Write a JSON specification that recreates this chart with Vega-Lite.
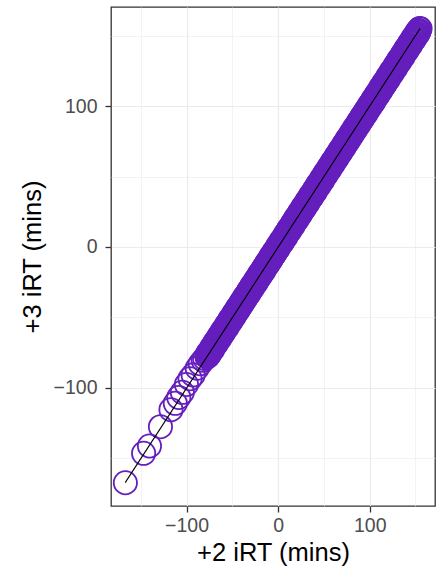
{
 "$schema": "https://vega.github.io/schema/vega-lite/v6.json",
 "width": 324, "height": 499,
 "autosize": {"type": "none"},
 "padding": {"left": 111, "top": 7, "right": 13, "bottom": 72},
 "background": "white",
 "config": {"view": {"stroke": "#333333", "strokeWidth": 1.3}, "font": "Liberation Sans"},
 "datasets": {
  "pts": [
{"x":-166.8,"y":-167.4},{"x":-146.9,"y":-146.5},{"x":-140.5,"y":-141.3},{"x":-128.5,"y":-127.6},{"x":-117.0,"y":-115.5},{"x":-112.3,"y":-111.0},{"x":-108.5,"y":-106.8},{"x":-104.6,"y":-103.2},{"x":-100.1,"y":-97.6},{"x":-96.2,"y":-93.5},{"x":-92.8,"y":-90.8},{"x":-88.4,"y":-86.1},{"x":-85.1,"y":-82.9},{"x":-81.9,"y":-80.4},{"x":-80.2,"y":-79.1},
{"x":-77.9,"y":-77.3},{"x":-77.5,"y":-77.9},{"x":-77.1,"y":-77.9},{"x":-76.8,"y":-75.9},{"x":-76.4,"y":-75.2},{"x":-76.0,"y":-77.0},{"x":-75.6,"y":-75.9},{"x":-75.2,"y":-74.9},{"x":-74.8,"y":-75.9},{"x":-74.4,"y":-73.9},
{"x":-73.9,"y":-74.4},{"x":-73.5,"y":-73.3},{"x":-73.1,"y":-72.2},{"x":-72.8,"y":-73.5},{"x":-72.4,"y":-72.4},{"x":-72.0,"y":-70.9},{"x":-71.6,"y":-72.9},{"x":-71.2,"y":-71.4},{"x":-70.8,"y":-70.1},{"x":-70.4,"y":-71.0},
{"x":-69.9,"y":-69.3},{"x":-69.5,"y":-69.9},{"x":-69.1,"y":-69.9},{"x":-68.8,"y":-67.9},{"x":-68.4,"y":-67.2},{"x":-68.0,"y":-69.0},{"x":-67.6,"y":-67.9},{"x":-67.2,"y":-66.9},{"x":-66.8,"y":-67.9},{"x":-66.4,"y":-65.9},
{"x":-65.9,"y":-66.4},{"x":-65.5,"y":-65.3},{"x":-65.1,"y":-64.2},{"x":-64.8,"y":-65.5},{"x":-64.4,"y":-64.4},{"x":-64.0,"y":-62.9},{"x":-63.6,"y":-64.9},{"x":-63.2,"y":-63.4},{"x":-62.8,"y":-62.1},{"x":-62.4,"y":-63.0},
{"x":-61.9,"y":-61.3},{"x":-61.5,"y":-61.9},{"x":-61.1,"y":-61.9},{"x":-60.8,"y":-59.9},{"x":-60.4,"y":-59.2},{"x":-60.0,"y":-61.0},{"x":-59.6,"y":-59.9},{"x":-59.2,"y":-58.9},{"x":-58.8,"y":-59.9},{"x":-58.4,"y":-57.9},
{"x":-57.9,"y":-58.4},{"x":-57.5,"y":-57.3},{"x":-57.1,"y":-56.2},{"x":-56.8,"y":-57.5},{"x":-56.4,"y":-56.4},{"x":-56.0,"y":-54.9},{"x":-55.6,"y":-56.9},{"x":-55.2,"y":-55.4},{"x":-54.8,"y":-54.1},{"x":-54.4,"y":-55.0},
{"x":-53.9,"y":-53.3},{"x":-53.5,"y":-53.9},{"x":-53.1,"y":-53.9},{"x":-52.8,"y":-51.9},{"x":-52.4,"y":-51.2},{"x":-52.0,"y":-53.0},{"x":-51.6,"y":-51.9},{"x":-51.2,"y":-50.9},{"x":-50.8,"y":-51.9},{"x":-50.4,"y":-49.9},
{"x":-49.9,"y":-50.4},{"x":-49.5,"y":-49.3},{"x":-49.1,"y":-48.2},{"x":-48.8,"y":-49.5},{"x":-48.4,"y":-48.4},{"x":-48.0,"y":-46.9},{"x":-47.6,"y":-48.9},{"x":-47.2,"y":-47.4},{"x":-46.8,"y":-46.1},{"x":-46.4,"y":-47.0},
{"x":-45.9,"y":-45.3},{"x":-45.5,"y":-45.9},{"x":-45.1,"y":-45.9},{"x":-44.8,"y":-43.9},{"x":-44.4,"y":-43.2},{"x":-44.0,"y":-45.0},{"x":-43.6,"y":-43.9},{"x":-43.2,"y":-42.9},{"x":-42.8,"y":-43.9},{"x":-42.4,"y":-41.9},
{"x":-41.9,"y":-42.4},{"x":-41.5,"y":-41.3},{"x":-41.1,"y":-40.2},{"x":-40.8,"y":-41.5},{"x":-40.4,"y":-40.4},{"x":-40.0,"y":-38.9},{"x":-39.6,"y":-40.9},{"x":-39.2,"y":-39.4},{"x":-38.8,"y":-38.1},{"x":-38.4,"y":-39.0},
{"x":-37.9,"y":-37.3},{"x":-37.5,"y":-37.9},{"x":-37.1,"y":-37.9},{"x":-36.8,"y":-35.9},{"x":-36.4,"y":-35.2},{"x":-36.0,"y":-37.0},{"x":-35.6,"y":-35.9},{"x":-35.2,"y":-34.9},{"x":-34.8,"y":-35.9},{"x":-34.4,"y":-33.9},
{"x":-33.9,"y":-34.4},{"x":-33.5,"y":-33.3},{"x":-33.1,"y":-32.2},{"x":-32.8,"y":-33.5},{"x":-32.4,"y":-32.4},{"x":-32.0,"y":-30.9},{"x":-31.6,"y":-32.9},{"x":-31.2,"y":-31.4},{"x":-30.8,"y":-30.1},{"x":-30.4,"y":-31.0},
{"x":-29.9,"y":-29.3},{"x":-29.5,"y":-29.9},{"x":-29.1,"y":-29.9},{"x":-28.8,"y":-27.9},{"x":-28.4,"y":-27.2},{"x":-28.0,"y":-29.0},{"x":-27.6,"y":-27.9},{"x":-27.2,"y":-26.9},{"x":-26.8,"y":-27.9},{"x":-26.4,"y":-25.9},
{"x":-25.9,"y":-26.4},{"x":-25.5,"y":-25.3},{"x":-25.1,"y":-24.2},{"x":-24.8,"y":-25.5},{"x":-24.4,"y":-24.4},{"x":-24.0,"y":-22.9},{"x":-23.6,"y":-24.9},{"x":-23.2,"y":-23.4},{"x":-22.8,"y":-22.1},{"x":-22.4,"y":-23.0},
{"x":-21.9,"y":-21.3},{"x":-21.5,"y":-21.9},{"x":-21.1,"y":-21.9},{"x":-20.8,"y":-19.9},{"x":-20.4,"y":-19.2},{"x":-20.0,"y":-21.0},{"x":-19.6,"y":-19.9},{"x":-19.2,"y":-18.9},{"x":-18.8,"y":-19.9},{"x":-18.4,"y":-17.9},
{"x":-17.9,"y":-18.4},{"x":-17.5,"y":-17.3},{"x":-17.1,"y":-16.2},{"x":-16.8,"y":-17.5},{"x":-16.4,"y":-16.4},{"x":-16.0,"y":-14.9},{"x":-15.6,"y":-16.9},{"x":-15.2,"y":-15.4},{"x":-14.8,"y":-14.1},{"x":-14.4,"y":-15.0},
{"x":-13.9,"y":-13.3},{"x":-13.5,"y":-13.9},{"x":-13.1,"y":-13.9},{"x":-12.8,"y":-11.9},{"x":-12.4,"y":-11.2},{"x":-12.0,"y":-13.0},{"x":-11.6,"y":-11.9},{"x":-11.2,"y":-10.9},{"x":-10.8,"y":-11.9},{"x":-10.4,"y":-9.9},
{"x":-9.9,"y":-10.4},{"x":-9.5,"y":-9.3},{"x":-9.1,"y":-8.2},{"x":-8.8,"y":-9.5},{"x":-8.4,"y":-8.4},{"x":-8.0,"y":-6.9},{"x":-7.6,"y":-8.9},{"x":-7.2,"y":-7.4},{"x":-6.8,"y":-6.1},{"x":-6.4,"y":-7.0},
{"x":-5.9,"y":-5.3},{"x":-5.5,"y":-5.9},{"x":-5.1,"y":-5.9},{"x":-4.8,"y":-3.9},{"x":-4.4,"y":-3.2},{"x":-4.0,"y":-5.0},{"x":-3.6,"y":-3.9},{"x":-3.2,"y":-2.9},{"x":-2.8,"y":-3.9},{"x":-2.4,"y":-1.9},
{"x":-1.9,"y":-2.4},{"x":-1.5,"y":-1.3},{"x":-1.1,"y":-0.2},{"x":-0.8,"y":-1.5},{"x":-0.4,"y":-0.4},{"x":0.0,"y":1.1},{"x":0.4,"y":-0.9},{"x":0.8,"y":0.6},{"x":1.2,"y":1.9},{"x":1.6,"y":1.0},
{"x":2.1,"y":2.7},{"x":2.5,"y":2.1},{"x":2.9,"y":2.1},{"x":3.2,"y":4.1},{"x":3.6,"y":4.8},{"x":4.0,"y":3.0},{"x":4.4,"y":4.1},{"x":4.8,"y":5.1},{"x":5.2,"y":4.1},{"x":5.6,"y":6.1},
{"x":6.1,"y":5.6},{"x":6.5,"y":6.7},{"x":6.9,"y":7.8},{"x":7.2,"y":6.5},{"x":7.6,"y":7.6},{"x":8.0,"y":9.1},{"x":8.4,"y":7.1},{"x":8.8,"y":8.6},{"x":9.2,"y":9.9},{"x":9.6,"y":9.0},
{"x":10.1,"y":10.7},{"x":10.5,"y":10.1},{"x":10.9,"y":10.1},{"x":11.2,"y":12.1},{"x":11.6,"y":12.8},{"x":12.0,"y":11.0},{"x":12.4,"y":12.1},{"x":12.8,"y":13.1},{"x":13.2,"y":12.1},{"x":13.6,"y":14.1},
{"x":14.1,"y":13.6},{"x":14.5,"y":14.7},{"x":14.9,"y":15.8},{"x":15.2,"y":14.5},{"x":15.6,"y":15.6},{"x":16.0,"y":17.1},{"x":16.4,"y":15.1},{"x":16.8,"y":16.6},{"x":17.2,"y":17.9},{"x":17.6,"y":17.0},
{"x":18.1,"y":18.7},{"x":18.5,"y":18.1},{"x":18.9,"y":18.1},{"x":19.2,"y":20.1},{"x":19.6,"y":20.8},{"x":20.0,"y":19.0},{"x":20.4,"y":20.1},{"x":20.8,"y":21.1},{"x":21.2,"y":20.1},{"x":21.6,"y":22.1},
{"x":22.1,"y":21.6},{"x":22.5,"y":22.7},{"x":22.9,"y":23.8},{"x":23.2,"y":22.5},{"x":23.6,"y":23.6},{"x":24.0,"y":25.1},{"x":24.4,"y":23.1},{"x":24.8,"y":24.6},{"x":25.2,"y":25.9},{"x":25.6,"y":25.0},
{"x":26.1,"y":26.7},{"x":26.5,"y":26.1},{"x":26.9,"y":26.1},{"x":27.2,"y":28.1},{"x":27.6,"y":28.8},{"x":28.0,"y":27.0},{"x":28.4,"y":28.1},{"x":28.8,"y":29.1},{"x":29.2,"y":28.1},{"x":29.6,"y":30.1},
{"x":30.1,"y":29.6},{"x":30.5,"y":30.7},{"x":30.9,"y":31.8},{"x":31.2,"y":30.5},{"x":31.6,"y":31.6},{"x":32.0,"y":33.1},{"x":32.4,"y":31.1},{"x":32.8,"y":32.6},{"x":33.2,"y":33.9},{"x":33.6,"y":33.0},
{"x":34.1,"y":34.7},{"x":34.5,"y":34.1},{"x":34.9,"y":34.1},{"x":35.2,"y":36.1},{"x":35.6,"y":36.8},{"x":36.0,"y":35.0},{"x":36.4,"y":36.1},{"x":36.8,"y":37.1},{"x":37.2,"y":36.1},{"x":37.6,"y":38.1},
{"x":38.1,"y":37.6},{"x":38.5,"y":38.7},{"x":38.9,"y":39.8},{"x":39.2,"y":38.5},{"x":39.6,"y":39.6},{"x":40.0,"y":41.1},{"x":40.4,"y":39.1},{"x":40.8,"y":40.6},{"x":41.2,"y":41.9},{"x":41.6,"y":41.0},
{"x":42.1,"y":42.7},{"x":42.5,"y":42.1},{"x":42.9,"y":42.1},{"x":43.2,"y":44.1},{"x":43.6,"y":44.8},{"x":44.0,"y":43.0},{"x":44.4,"y":44.1},{"x":44.8,"y":45.1},{"x":45.2,"y":44.1},{"x":45.6,"y":46.1},
{"x":46.1,"y":45.6},{"x":46.5,"y":46.7},{"x":46.9,"y":47.8},{"x":47.2,"y":46.5},{"x":47.6,"y":47.6},{"x":48.0,"y":49.1},{"x":48.4,"y":47.1},{"x":48.8,"y":48.6},{"x":49.2,"y":49.9},{"x":49.6,"y":49.0},
{"x":50.1,"y":50.7},{"x":50.5,"y":50.1},{"x":50.9,"y":50.1},{"x":51.2,"y":52.1},{"x":51.6,"y":52.8},{"x":52.0,"y":51.0},{"x":52.4,"y":52.1},{"x":52.8,"y":53.1},{"x":53.2,"y":52.1},{"x":53.6,"y":54.1},
{"x":54.1,"y":53.6},{"x":54.5,"y":54.7},{"x":54.9,"y":55.8},{"x":55.2,"y":54.5},{"x":55.6,"y":55.6},{"x":56.0,"y":57.1},{"x":56.4,"y":55.1},{"x":56.8,"y":56.6},{"x":57.2,"y":57.9},{"x":57.6,"y":57.0},
{"x":58.1,"y":58.7},{"x":58.5,"y":58.1},{"x":58.9,"y":58.1},{"x":59.2,"y":60.1},{"x":59.6,"y":60.8},{"x":60.0,"y":59.0},{"x":60.4,"y":60.1},{"x":60.8,"y":61.1},{"x":61.2,"y":60.1},{"x":61.6,"y":62.1},
{"x":62.1,"y":61.6},{"x":62.5,"y":62.7},{"x":62.9,"y":63.8},{"x":63.2,"y":62.5},{"x":63.6,"y":63.6},{"x":64.0,"y":65.1},{"x":64.4,"y":63.1},{"x":64.8,"y":64.6},{"x":65.2,"y":65.9},{"x":65.6,"y":65.0},
{"x":66.1,"y":66.7},{"x":66.5,"y":66.1},{"x":66.9,"y":66.1},{"x":67.2,"y":68.1},{"x":67.6,"y":68.8},{"x":68.0,"y":67.0},{"x":68.4,"y":68.1},{"x":68.8,"y":69.1},{"x":69.2,"y":68.1},{"x":69.6,"y":70.1},
{"x":70.1,"y":69.6},{"x":70.5,"y":70.7},{"x":70.9,"y":71.8},{"x":71.2,"y":70.5},{"x":71.6,"y":71.6},{"x":72.0,"y":73.1},{"x":72.4,"y":71.1},{"x":72.8,"y":72.6},{"x":73.2,"y":73.9},{"x":73.6,"y":73.0},
{"x":74.1,"y":74.7},{"x":74.5,"y":74.1},{"x":74.9,"y":74.1},{"x":75.2,"y":76.1},{"x":75.6,"y":76.8},{"x":76.0,"y":75.0},{"x":76.4,"y":76.1},{"x":76.8,"y":77.1},{"x":77.2,"y":76.1},{"x":77.6,"y":78.1},
{"x":78.1,"y":77.6},{"x":78.5,"y":78.7},{"x":78.9,"y":79.8},{"x":79.2,"y":78.5},{"x":79.6,"y":79.6},{"x":80.0,"y":81.1},{"x":80.4,"y":79.1},{"x":80.8,"y":80.6},{"x":81.2,"y":81.9},{"x":81.6,"y":81.0},
{"x":82.1,"y":82.7},{"x":82.5,"y":82.1},{"x":82.9,"y":82.1},{"x":83.2,"y":84.1},{"x":83.6,"y":84.8},{"x":84.0,"y":83.0},{"x":84.4,"y":84.1},{"x":84.8,"y":85.1},{"x":85.2,"y":84.1},{"x":85.6,"y":86.1},
{"x":86.1,"y":85.6},{"x":86.5,"y":86.7},{"x":86.9,"y":87.8},{"x":87.2,"y":86.5},{"x":87.6,"y":87.6},{"x":88.0,"y":89.1},{"x":88.4,"y":87.1},{"x":88.8,"y":88.6},{"x":89.2,"y":89.9},{"x":89.6,"y":89.0},
{"x":90.1,"y":90.7},{"x":90.5,"y":90.1},{"x":90.9,"y":90.1},{"x":91.2,"y":92.1},{"x":91.6,"y":92.8},{"x":92.0,"y":91.0},{"x":92.4,"y":92.1},{"x":92.8,"y":93.1},{"x":93.2,"y":92.1},{"x":93.6,"y":94.1},
{"x":94.1,"y":93.6},{"x":94.5,"y":94.7},{"x":94.9,"y":95.8},{"x":95.2,"y":94.5},{"x":95.6,"y":95.6},{"x":96.0,"y":97.1},{"x":96.4,"y":95.1},{"x":96.8,"y":96.6},{"x":97.2,"y":97.9},{"x":97.6,"y":97.0},
{"x":98.1,"y":98.7},{"x":98.5,"y":98.1},{"x":98.9,"y":98.1},{"x":99.2,"y":100.1},{"x":99.6,"y":100.8},{"x":100.0,"y":99.0},{"x":100.4,"y":100.1},{"x":100.8,"y":101.1},{"x":101.2,"y":100.1},{"x":101.6,"y":102.1},
{"x":102.1,"y":101.6},{"x":102.5,"y":102.7},{"x":102.9,"y":103.8},{"x":103.2,"y":102.5},{"x":103.6,"y":103.6},{"x":104.0,"y":105.1},{"x":104.4,"y":103.1},{"x":104.8,"y":104.6},{"x":105.2,"y":105.9},{"x":105.6,"y":105.0},
{"x":106.1,"y":106.7},{"x":106.5,"y":106.1},{"x":106.9,"y":106.1},{"x":107.2,"y":108.1},{"x":107.6,"y":108.8},{"x":108.0,"y":107.0},{"x":108.4,"y":108.1},{"x":108.8,"y":109.1},{"x":109.2,"y":108.1},{"x":109.6,"y":110.1},
{"x":110.1,"y":109.6},{"x":110.5,"y":110.7},{"x":110.9,"y":111.8},{"x":111.2,"y":110.5},{"x":111.6,"y":111.6},{"x":112.0,"y":113.1},{"x":112.4,"y":111.1},{"x":112.8,"y":112.6},{"x":113.2,"y":113.9},{"x":113.6,"y":113.0},
{"x":114.1,"y":114.7},{"x":114.5,"y":114.1},{"x":114.9,"y":114.1},{"x":115.2,"y":116.1},{"x":115.6,"y":116.8},{"x":116.0,"y":115.0},{"x":116.4,"y":116.1},{"x":116.8,"y":117.1},{"x":117.2,"y":116.1},{"x":117.6,"y":118.1},
{"x":118.1,"y":117.6},{"x":118.5,"y":118.7},{"x":118.9,"y":119.8},{"x":119.2,"y":118.5},{"x":119.6,"y":119.6},{"x":120.0,"y":121.1},{"x":120.4,"y":119.1},{"x":120.8,"y":120.6},{"x":121.2,"y":121.9},{"x":121.6,"y":121.0},
{"x":122.1,"y":122.7},{"x":122.5,"y":122.1},{"x":122.9,"y":122.1},{"x":123.2,"y":124.1},{"x":123.6,"y":124.8},{"x":124.0,"y":123.0},{"x":124.4,"y":124.1},{"x":124.8,"y":125.1},{"x":125.2,"y":124.1},{"x":125.6,"y":126.1},
{"x":126.1,"y":125.6},{"x":126.5,"y":126.7},{"x":126.9,"y":127.8},{"x":127.2,"y":126.5},{"x":127.6,"y":127.6},{"x":128.0,"y":129.1},{"x":128.4,"y":127.1},{"x":128.8,"y":128.6},{"x":129.2,"y":129.9},{"x":129.6,"y":129.0},
{"x":130.1,"y":130.7},{"x":130.5,"y":130.1},{"x":130.9,"y":130.1},{"x":131.2,"y":132.1},{"x":131.6,"y":132.8},{"x":132.0,"y":131.0},{"x":132.4,"y":132.1},{"x":132.8,"y":133.1},{"x":133.2,"y":132.1},{"x":133.6,"y":134.1},
{"x":134.1,"y":133.6},{"x":134.5,"y":134.7},{"x":134.9,"y":135.8},{"x":135.2,"y":134.5},{"x":135.6,"y":135.6},{"x":136.0,"y":137.1},{"x":136.4,"y":135.1},{"x":136.8,"y":136.6},{"x":137.2,"y":137.9},{"x":137.6,"y":137.0},
{"x":138.1,"y":138.7},{"x":138.5,"y":138.1},{"x":138.9,"y":138.1},{"x":139.2,"y":140.1},{"x":139.6,"y":140.8},{"x":140.0,"y":139.0},{"x":140.4,"y":140.1},{"x":140.8,"y":141.1},{"x":141.2,"y":140.1},{"x":141.6,"y":142.1},
{"x":142.1,"y":141.6},{"x":142.5,"y":142.7},{"x":142.9,"y":143.8},{"x":143.2,"y":142.5},{"x":143.6,"y":143.6},{"x":144.0,"y":145.1},{"x":144.4,"y":143.1},{"x":144.8,"y":144.6},{"x":145.2,"y":145.9},{"x":145.6,"y":145.0},
{"x":146.1,"y":146.7},{"x":146.5,"y":146.1},{"x":146.9,"y":146.1},{"x":147.2,"y":148.1},{"x":147.6,"y":148.8},{"x":148.0,"y":147.0},{"x":148.4,"y":148.1},{"x":148.8,"y":149.1},{"x":149.2,"y":148.1},{"x":149.6,"y":150.1},
{"x":150.1,"y":149.6},{"x":150.5,"y":150.7},{"x":150.9,"y":151.8},{"x":151.2,"y":150.5},{"x":151.6,"y":151.6},{"x":152.0,"y":153.1},{"x":152.4,"y":151.1},{"x":152.8,"y":152.6},{"x":153.2,"y":153.9},{"x":153.6,"y":153.0},
{"x":154.0,"y":153.4},{"x":154.4,"y":154.9},{"x":155.0,"y":155.1}
  ],
  "fit": [{"x": -167.0, "y": -167.3}, {"x": 155.0, "y": 155.1}]
 },
 "layer": [
  {
   "data": {"name": "pts"},
   "mark": {"type": "point", "shape": "circle", "filled": false, "size": 540, "strokeWidth": 1.8, "color": "#651FBD", "opacity": 1},
   "encoding": {
    "x": {"field": "x", "type": "quantitative",
     "scale": {"domain": [-182.5, 171.3], "nice": false, "zero": false},
     "axis": {"title": "+2 iRT (mins)", "values": [-150, -100, -50, 0, 50, 100, 150],
      "grid": true, "gridColor": "#EBEBEB",
      "gridWidth": {"condition": {"test": "datum.value % 100 === 0", "value": 1.2}, "value": 0.6},
      "tickOpacity": {"condition": {"test": "datum.value % 100 === 0", "value": 1}, "value": 0},
      "labelExpr": "datum.value % 100 === 0 ? datum.label : ''",
      "domain": false, "tickColor": "#333333", "tickSize": 6, "tickWidth": 1.3,
      "labelFont": "Liberation Sans", "labelFontSize": 19.5, "labelColor": "#4D4D4D", "labelPadding": 4,
      "titleFont": "Liberation Sans", "titleFontSize": 25.5, "titleFontWeight": "normal", "titleColor": "#000000", "titlePadding": 6}},
    "y": {"field": "y", "type": "quantitative",
     "scale": {"domain": [-183.9, 170.4], "nice": false, "zero": false},
     "axis": {"title": "+3 iRT (mins)", "values": [-150, -100, -50, 0, 50, 100, 150],
      "grid": true, "gridColor": "#EBEBEB",
      "gridWidth": {"condition": {"test": "datum.value % 100 === 0", "value": 1.2}, "value": 0.6},
      "tickOpacity": {"condition": {"test": "datum.value % 100 === 0", "value": 1}, "value": 0},
      "labelExpr": "datum.value % 100 === 0 ? datum.label : ''",
      "domain": false, "tickColor": "#333333", "tickSize": 6, "tickWidth": 1.3,
      "labelFont": "Liberation Sans", "labelFontSize": 19.5, "labelColor": "#4D4D4D", "labelPadding": 8,
      "titleFont": "Liberation Sans", "titleFontSize": 25.5, "titleFontWeight": "normal", "titleColor": "#000000", "titlePadding": 8}}
   }
  },
  {
   "data": {"name": "fit"},
   "mark": {"type": "line", "color": "#000000", "strokeWidth": 1.1},
   "encoding": {
    "x": {"field": "x", "type": "quantitative"},
    "y": {"field": "y", "type": "quantitative"}
   }
  }
 ]
}
